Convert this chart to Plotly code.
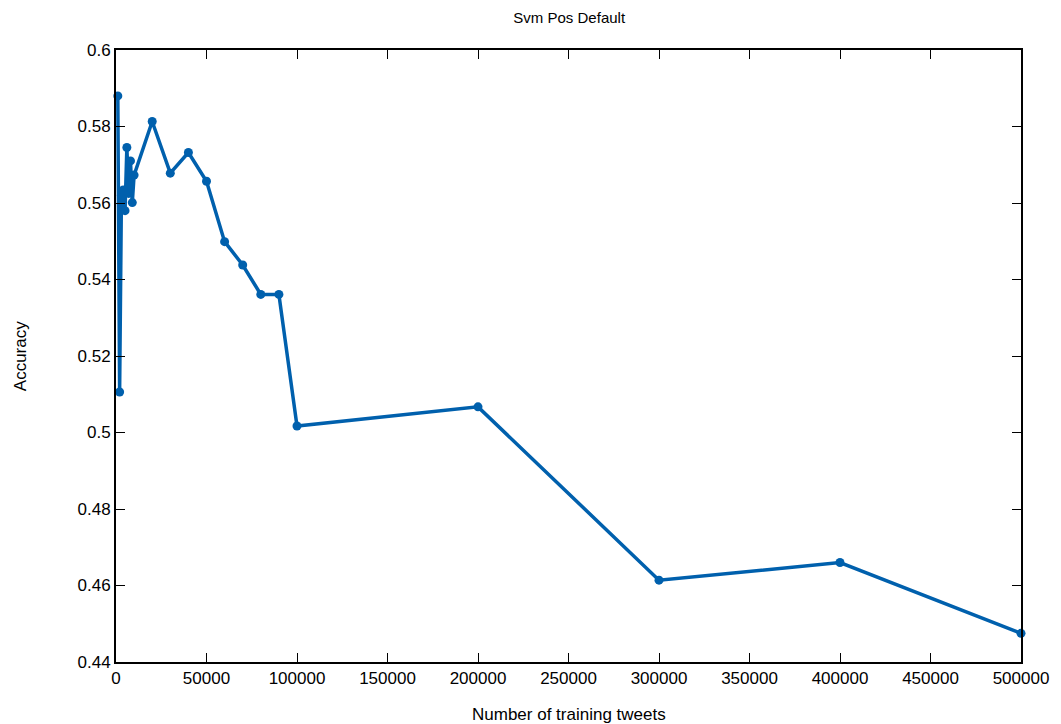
import plotly.graph_objects as go

tweets = [1000, 2000, 3000, 4000, 5000, 6000, 7000, 8000, 9000, 10000,
          20000, 30000, 40000, 50000, 60000, 70000, 80000, 90000, 100000,
          200000, 300000, 400000, 500000]
accuracy = [0.588, 0.5106, 0.562, 0.5634, 0.558, 0.5745, 0.5625, 0.571, 0.5601, 0.5673,
            0.5813, 0.5678, 0.5732, 0.5657, 0.5499, 0.5438, 0.5361, 0.5361, 0.5017,
            0.5067, 0.4614, 0.4660, 0.4475]

x_ticks = [0, 50000, 100000, 150000, 200000, 250000, 300000, 350000, 400000, 450000, 500000]
x_tick_labels = [str(v) for v in x_ticks]
y_ticks = [0.44, 0.46, 0.48, 0.5, 0.52, 0.54, 0.56, 0.58, 0.6]
y_tick_labels = ["0.44", "0.46", "0.48", "0.5", "0.52", "0.54", "0.56", "0.58", "0.6"]

FONT = "Liberation Sans, Arial, Helvetica, sans-serif"
COLOR = "#0060ad"

fig = go.Figure()
fig.add_trace(go.Scatter(
    x=tweets, y=accuracy, mode="lines+markers",
    line=dict(color=COLOR, width=3.5),
    marker=dict(color=COLOR, size=9),
    cliponaxis=False, showlegend=False,
))

axis_common = dict(
    showline=True, linecolor="black", linewidth=2, mirror="allticks",
    ticks="inside", ticklen=9, tickwidth=1, tickcolor="black",
    showgrid=False, zeroline=False,
    tickfont=dict(family=FONT, size=17, color="black"),
)

fig.update_layout(
    width=1061, height=724,
    margin=dict(l=116, r=38, t=50, b=62),
    paper_bgcolor="white", plot_bgcolor="white",
    title=dict(text="Svm Pos Default", x=0.5365, xanchor="center",
               y=1 - 18 / 724, yanchor="middle", yref="container",
               font=dict(family=FONT, size=15, color="black")),
    xaxis=dict(range=[0, 500000], tickvals=x_ticks, ticktext=x_tick_labels, **axis_common),
    yaxis=dict(range=[0.44, 0.6], tickvals=y_ticks, ticktext=y_tick_labels, **axis_common),
    annotations=[
        dict(text="Number of training tweets", xref="paper", yref="paper",
             x=0.5, y=(662 - 714) / 612, xanchor="center", yanchor="middle",
             showarrow=False, font=dict(family=FONT, size=17, color="black")),
        dict(text="Accuracy", xref="paper", yref="paper",
             x=(20 - 116) / 907, y=0.5, xanchor="center", yanchor="middle",
             textangle=-90, showarrow=False,
             font=dict(family=FONT, size=17, color="black")),
    ],
)

fig.write_html("out.html")
